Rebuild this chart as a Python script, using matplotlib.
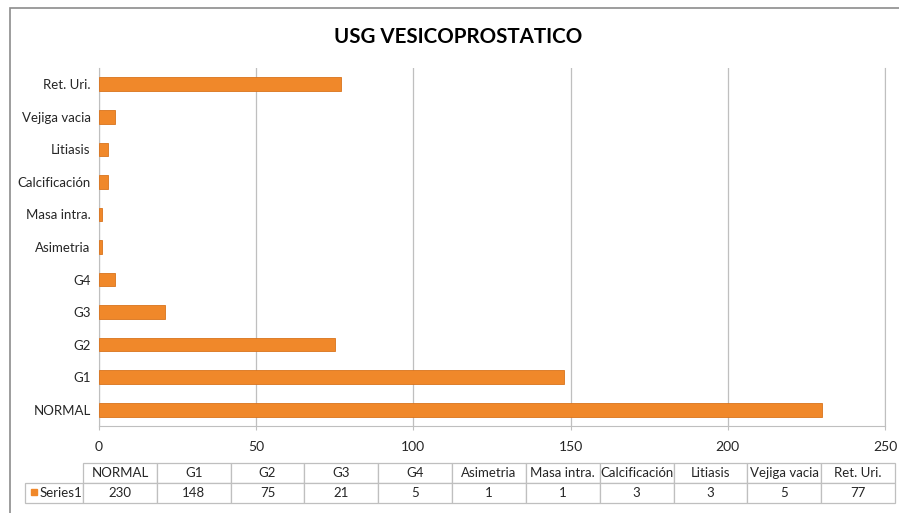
import matplotlib.pyplot as plt
from matplotlib.patches import Rectangle

categories = ['NORMAL', 'G1', 'G2', 'G3', 'G4', 'Asimetria', 'Masa intra.',
              'Calcificación', 'Litiasis', 'Vejiga vacia', 'Ret. Uri.']
values = [230, 148, 75, 21, 5, 1, 1, 3, 3, 5, 77]
series_name = 'Series1'
x_ticks = [0, 50, 100, 150, 200, 250]
title = 'USG VESICOPROSTATICO'

bar_color = '#F0882A'
grid_color = '#BFBFBF'
text_color = '#262626'

plt.rcParams['font.family'] = ['Lato', 'DejaVu Sans']

W, H = 899, 513
fig = plt.figure(figsize=(W / 100, H / 100), dpi=100)


def px_axes(x0, y0, x1, y1):
    # pixel box (top-left origin) -> figure axes
    return fig.add_axes([x0 / W, 1 - y1 / H, (x1 - x0) / W, (y1 - y0) / H])


# outer chart border
fig.patches.append(Rectangle((10 / W, -0.05), 1.5, 1 - 8 / H + 0.05,
                             transform=fig.transFigure, fill=False,
                             edgecolor='#8C8C8C', linewidth=1.2))

fig.text(458 / W, 1 - 37 / H, title, ha='center', va='center',
         fontsize=14.8, fontweight='bold', color='black')

ax = px_axes(99, 68, 885, 426)
ypos = range(len(categories))
ax.barh(ypos, values, height=0.42, color=bar_color, edgecolor='#D9731C',
        linewidth=0.6, zorder=3)
ax.set_xlim(x_ticks[0], x_ticks[-1])
ax.set_ylim(-0.5, len(categories) - 0.5)
ax.set_xticks(x_ticks)
ax.set_yticks(list(ypos))
ax.set_yticklabels(categories)
ax.grid(axis='x', color=grid_color, linewidth=0.9, zorder=0)
for side in ['left', 'bottom', 'right']:
    ax.spines[side].set_color(grid_color)
ax.spines['top'].set_visible(False)
ax.tick_params(axis='x', length=3, color=grid_color, pad=8,
               labelsize=10, labelcolor=text_color)
ax.tick_params(axis='y', length=0, pad=6, labelsize=9.5, labelcolor=text_color)

# data table under the chart
tax = px_axes(25, 463, 895, 503)
tax.axis('off')
cell_text = [[''] + [str(v) for v in values]]
col_labels = [''] + categories
first_w = 58 / 870
other_w = (1 - first_w) / len(categories)
tbl = tax.table(cellText=cell_text, colLabels=col_labels,
                colWidths=[first_w] + [other_w] * len(categories),
                cellLoc='center', bbox=[0, 0, 1, 1])
tbl.auto_set_font_size(False)
for (r, c), cell in tbl.get_celld().items():
    cell.set_edgecolor(grid_color)
    cell.set_linewidth(0.9)
    cell.get_text().set_fontsize(9.5)
    cell.get_text().set_color(text_color)
    if r == 0 and c == 0:
        cell.visible_edges = ''

# legend key and series name in the first cell
tax.add_patch(Rectangle((6 / 870, 0.2), 6 / 870, 0.16, transform=tax.transAxes,
                        color=bar_color, clip_on=False, zorder=5))
tax.text(15 / 870, 0.25, series_name, transform=tax.transAxes, ha='left',
         va='center', fontsize=9.5, color=text_color, zorder=5)

fig.savefig('out.png', dpi=100)
